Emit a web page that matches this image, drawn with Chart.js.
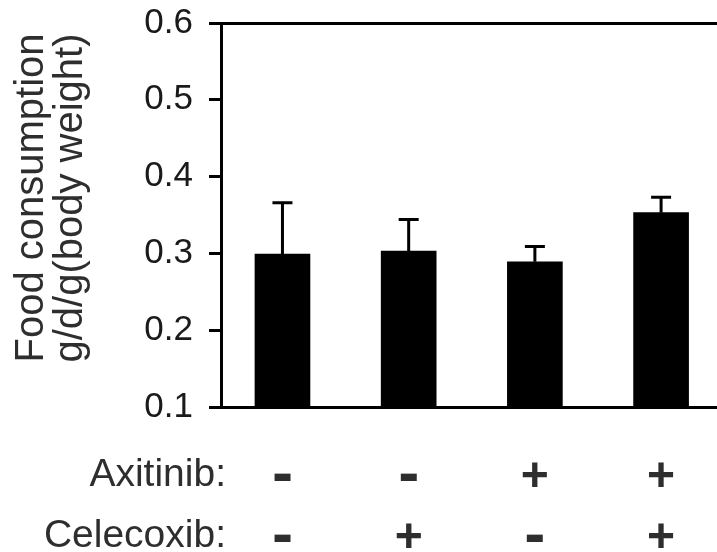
<!DOCTYPE html>
<html>
<head>
<meta charset="utf-8">
<script src="https://cdn.jsdelivr.net/npm/chart.js@4"></script>
<style>
  html, body { margin: 0; padding: 0; background: #fff; }
  #wrap { width: 717px; height: 552px; }
</style>
</head>
<body>
<div id="wrap"><canvas id="myChart" width="717" height="552"></canvas></div>
<script>
//Data
const groups = [1, 2, 3, 4];
const means = [0.299, 0.303, 0.289, 0.353];
const errors = [0.067, 0.041, 0.020, 0.020];
const yTicks = [0.1, 0.2, 0.3, 0.4, 0.5, 0.6];
const yTitle = ['Food consumption', 'g/d/g(body weight)'];
const rowNames = ['Axitinib:', 'Celecoxib:'];
const axitinib = ['-', '-', '+', '+'];
const celecoxib = ['-', '+', '-', '+'];

const FONT = "'Liberation Sans', Arial, sans-serif";
const TEXT = '#2e2e2e';

//Error bars (upper only)
const errorBars = {
  id: 'errorBars',
  afterDatasetsDraw(chart) {
    const {ctx, scales: {x, y}} = chart;
    ctx.save();
    ctx.strokeStyle = '#000';
    ctx.lineWidth = 3;
    groups.forEach(function (g, i) {
      const px = x.getPixelForValue(g);
      const yBar = y.getPixelForValue(means[i]);
      const yTop = y.getPixelForValue(means[i] + errors[i]);
      ctx.beginPath();
      ctx.moveTo(px, yBar);
      ctx.lineTo(px, yTop);
      ctx.moveTo(px - 10, yTop);
      ctx.lineTo(px + 10, yTop);
      ctx.stroke();
    });
    ctx.restore();
  }
};

//Rotated y title and the +/- treatment rows under the bars
const labels = {
  id: 'labels',
  afterDraw(chart) {
    const {ctx, scales: {x}} = chart;
    ctx.save();
    ctx.fillStyle = TEXT;

    // y title, two lines
    ctx.translate(0, 198);
    ctx.rotate(-Math.PI / 2);
    ctx.textAlign = 'center';
    ctx.textBaseline = 'alphabetic';
    ctx.font = '40px ' + FONT;
    ctx.fillText(yTitle[0], 0, 43);
    ctx.fillText(yTitle[1], 0, 82);
    ctx.setTransform(1, 0, 0, 1, 0, 0);

    const rows = [axitinib, celecoxib];
    const baselines = [486, 547];
    rows.forEach(function (row, r) {
      ctx.textAlign = 'right';
      ctx.textBaseline = 'alphabetic';
      ctx.font = '39px ' + FONT;
      ctx.fillText(rowNames[r], 226, baselines[r]);
      ctx.textAlign = 'center';
      ctx.textBaseline = 'middle';
      row.forEach(function (s, i) {
        const px = x.getPixelForValue(groups[i]);
        if (s === '+') {
          ctx.font = 'bold 48px ' + FONT;
          ctx.fillText('+', px, baselines[r] - 8);
        } else {
          ctx.font = "bold 52px 'DejaVu Sans'";
          ctx.fillText('-', px, baselines[r] - 8);
        }
      });
    });
    ctx.restore();
  }
};

var myChart = new Chart('myChart', {
  type: 'bar',
  data: {
    datasets: [{
      data: groups.map(function (g, i) { return {x: g, y: means[i]}; }),
      backgroundColor: '#000',
      borderWidth: 0,
      barThickness: 55
    }]
  },
  options: {
    responsive: false,
    animation: false,
    layout: { padding: { top: 23, right: 0, left: 0, bottom: 0 } },
    plugins: {
      legend: { display: false },
      tooltip: { enabled: false }
    },
    scales: {
      x: {
        type: 'linear',
        min: 0.513,
        max: 4.443,
        offset: false,
        ticks: { display: false },
        grid: { display: false },
        border: { display: true, color: '#000', width: 3 },
        afterFit(s) { s.height = 145; }
      },
      x2: {
        type: 'linear',
        position: 'top',
        min: 0.513,
        max: 4.443,
        ticks: { display: false },
        grid: { display: false },
        border: { display: true, color: '#000', width: 3 },
        afterFit(s) { s.height = 0; }
      },
      y: {
        min: 0.1,
        max: 0.6,
        afterBuildTicks(s) { s.ticks = yTicks.map(function (v) { return {value: v}; }); },
        ticks: {
          color: '#1a1a1a',
          padding: 16,
          font: { family: FONT, size: 35 },
          callback: function (v) { return v.toFixed(1); }
        },
        grid: {
          drawOnChartArea: false,
          tickLength: 12,
          tickWidth: 3,
          tickColor: '#000'
        },
        border: { display: true, color: '#000', width: 3 },
        afterFit(s) {
          s.width = 221;
          s.paddingTop = 0;
          s.paddingBottom = 0;
        }
      }
    }
  },
  plugins: [errorBars, labels]
});
</script>
</body>
</html>
